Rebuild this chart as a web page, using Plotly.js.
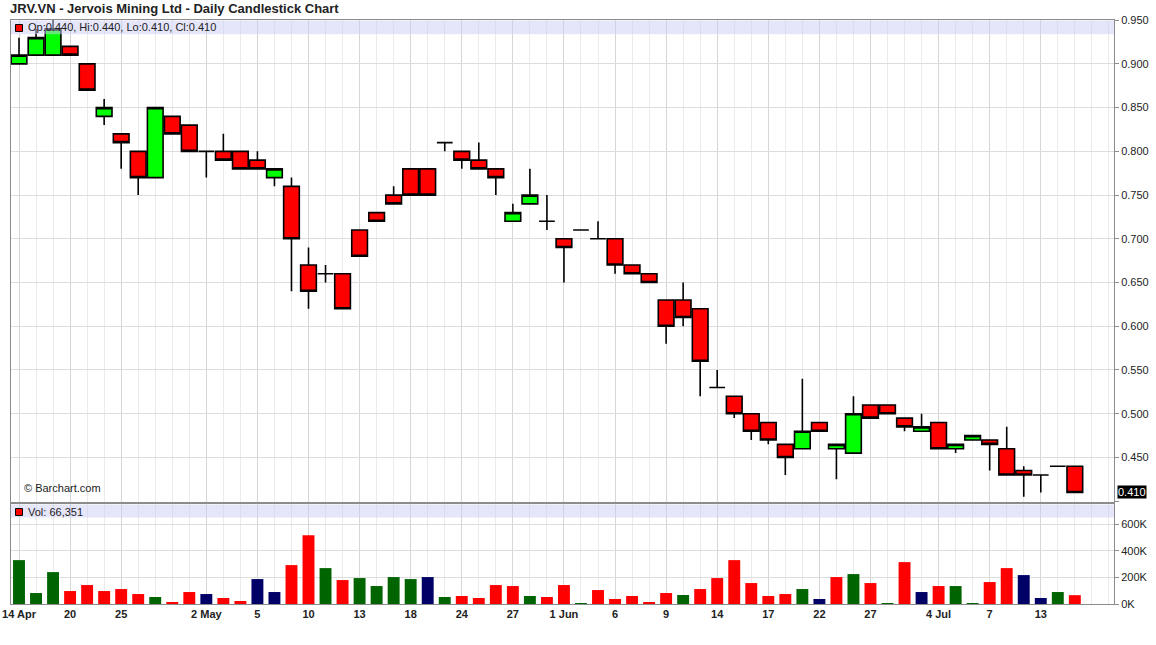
<!DOCTYPE html>
<html><head><meta charset="utf-8">
<script src="https://cdn.plot.ly/plotly-3.0.1.min.js"></script>
<style>html,body{margin:0;padding:0;background:#fff}#chart{width:1156px;height:645px}</style>
</head><body><div id="chart"></div>
<script>
// ---- data ----
const opens  = [0.90,0.91,0.91,0.92,0.90,0.84,0.82,0.80,0.77,0.84,0.83,0.80,0.80,0.80,0.79,0.77,0.76,0.67,0.66,0.66,0.71,0.73,0.75,0.78,0.78,0.81,0.80,0.79,0.78,0.72,0.74,0.72,0.70,0.71,0.70,0.70,0.67,0.66,0.63,0.63,0.62,0.53,0.52,0.50,0.49,0.465,0.46,0.49,0.46,0.455,0.51,0.51,0.495,0.48,0.49,0.46,0.47,0.47,0.46,0.435,0.43,0.44,0.44];
const highs  = [0.93,0.94,0.95,0.92,0.90,0.86,0.82,0.80,0.85,0.84,0.83,0.80,0.82,0.80,0.80,0.78,0.77,0.69,0.67,0.66,0.71,0.73,0.76,0.78,0.78,0.81,0.80,0.81,0.78,0.74,0.78,0.75,0.70,0.71,0.72,0.70,0.67,0.66,0.63,0.65,0.62,0.55,0.52,0.50,0.49,0.465,0.54,0.49,0.465,0.52,0.51,0.51,0.495,0.50,0.49,0.465,0.475,0.47,0.485,0.44,0.43,0.44,0.44];
const lows   = [0.90,0.91,0.91,0.91,0.87,0.83,0.78,0.75,0.77,0.82,0.80,0.77,0.79,0.78,0.78,0.76,0.64,0.62,0.65,0.62,0.68,0.72,0.74,0.75,0.75,0.80,0.78,0.78,0.75,0.72,0.74,0.71,0.65,0.71,0.70,0.66,0.66,0.65,0.58,0.60,0.52,0.53,0.495,0.47,0.465,0.43,0.46,0.48,0.425,0.455,0.495,0.50,0.48,0.48,0.46,0.455,0.47,0.435,0.43,0.405,0.41,0.44,0.41];
const closes = [0.91,0.93,0.94,0.91,0.87,0.85,0.81,0.77,0.85,0.82,0.80,0.80,0.79,0.78,0.78,0.78,0.70,0.64,0.66,0.62,0.68,0.72,0.74,0.75,0.75,0.81,0.79,0.78,0.77,0.73,0.75,0.72,0.69,0.71,0.70,0.67,0.66,0.65,0.60,0.61,0.56,0.53,0.50,0.48,0.47,0.45,0.48,0.48,0.465,0.50,0.495,0.50,0.485,0.485,0.46,0.465,0.475,0.465,0.43,0.43,0.43,0.44,0.41];
const volumes = [330000,82500,240000,97500,142500,97500,112500,75000,52500,15000,90000,75000,45000,22500,187500,90000,292500,517500,270000,180000,195000,135000,202500,187500,202500,52500,60000,45000,142500,135000,60000,52500,142500,7500,105000,37500,60000,15000,82500,67500,112500,195000,330000,157500,60000,75000,112500,37500,202500,225000,157500,7500,315000,90000,135000,135000,7500,165000,270000,217500,45000,90000,66351];
const tickIdx    = [0,3,6,11,14,17,20,23,26,29,32,35,38,41,44,47,50,54,57,60];
const tickLabels = ['14 Apr','20','25','2 May','5','10','13','18','24','27','1 Jun','6','9','14','17','22','27','4 Jul','7','13'];
const priceTickVals = [0.40,0.45,0.50,0.55,0.60,0.65,0.70,0.75,0.80,0.85,0.90,0.95];
const priceTickText = ['','0.450','0.500','0.550','0.600','0.650','0.700','0.750','0.800','0.850','0.900','0.950'];
const volTickVals = [0,200000,400000,600000];
const volTickText = ['0K','200K','400K','600K'];
const chartTitle = 'JRV.VN - Jervois Mining Ltd - Daily Candlestick Chart';

// ---- build ----
const xs = opens.map((_, i) => i);
const last = opens.length - 1;
const GREEN = '#00ff00', RED = '#ff0000';
const VUP = '#006400', VDN = '#ff0000', VFLAT = '#000066';
const volColors = closes.map((c, i) => {
  const prev = i === 0 ? opens[0] : closes[i - 1];
  return c > prev ? VUP : (c < prev ? VDN : VFLAT);
});

const W = 1156, H = 645, ML = 11, MR = 42, MT = 20, MB = 41;
const PW = W - ML - MR, PH = H - MT - MB;
const px = x => (x - ML) / PW;
const py = y => (H - MB - y) / PH;

const FONT = 'Liberation Sans, Arial, sans-serif';
const FRAME = '#8c8c8c';

const candle = {
  type: 'candlestick', x: xs, open: opens, high: highs, low: lows, close: closes,
  xaxis: 'x', yaxis: 'y',
  increasing: {fillcolor: GREEN, line: {color: '#000', width: 1.6}},
  decreasing: {fillcolor: RED, line: {color: '#000', width: 1.6}},
  whiskerwidth: 0, hoverinfo: 'skip'
};
const vol = {
  type: 'bar', x: xs, y: volumes, xaxis: 'x2', yaxis: 'y2',
  marker: {color: volColors, line: {width: 0}}, width: 0.7, hoverinfo: 'skip'
};

const xRange = [-0.47, 64.3];
const baseX = {
  range: xRange, tickvals: tickIdx, ticktext: tickLabels, showgrid: true, gridcolor: '#d6d6d6', gridwidth: 1,
  minor: {dtick: 1, tick0: 0, showgrid: true, gridcolor: '#ebebeb', gridwidth: 1},
  showline: true, linecolor: FRAME, linewidth: 1, mirror: true, zeroline: false, fixedrange: true,
  rangeslider: {visible: false}
};

const layout = {
  width: W, height: H,
  margin: {l: ML, r: MR, t: MT, b: MB, pad: 0},
  paper_bgcolor: '#fff', plot_bgcolor: '#fff',
  showlegend: false, hovermode: false,
  boxgap: 0.04, boxgroupgap: 0.04,
  font: {family: FONT, size: 11, color: '#222'},
  title: {text: chartTitle, xref: 'container', x: 10 / W, xanchor: 'left', yref: 'container', y: 1 - 8 / H, yanchor: 'middle',
          font: {family: FONT, size: 13, weight: 'bold', color: '#222'}},
  xaxis: Object.assign({}, baseX, {domain: [0, 1], anchor: 'y', showticklabels: false, ticks: ''}),
  xaxis2: Object.assign({}, baseX, {domain: [0, 1], anchor: 'y2', matches: 'x', showticklabels: true, ticks: '',
          tickfont: {family: FONT, size: 11, weight: 'bold', color: '#222'}}),
  yaxis: {domain: [py(501.7), 1], anchor: 'x', side: 'right', range: [0.3994, 0.9502], tickvals: priceTickVals, ticktext: priceTickText,
          ticks: 'outside', ticklen: 4, tickcolor: FRAME, showgrid: true, gridcolor: '#dddddd', showline: true, linecolor: FRAME, mirror: true,
          zeroline: false, fixedrange: true, tickfont: {family: FONT, size: 11, color: '#222'}},
  yaxis2: {domain: [0, py(504)], anchor: 'x2', side: 'right', range: [0, 752000], tickvals: volTickVals, ticktext: volTickText,
          ticks: 'outside', ticklen: 4, tickcolor: FRAME, showgrid: true, gridcolor: '#dddddd', showline: true, linecolor: FRAME, mirror: true,
          zeroline: false, fixedrange: true, tickfont: {family: FONT, size: 11, color: '#222'}},
  shapes: [
    {type: 'rect', xref: 'paper', yref: 'paper', x0: 0, x1: 1, y0: py(34.3), y1: py(20.5), fillcolor: 'rgba(205,205,245,0.5)', line: {width: 0}, layer: 'above'},
    {type: 'rect', xref: 'paper', yref: 'paper', x0: 0, x1: 1, y0: py(517.5), y1: py(504.5), fillcolor: 'rgba(205,205,245,0.5)', line: {width: 0}, layer: 'above'},
    {type: 'rect', xref: 'paper', yref: 'paper', x0: px(15.5), x1: px(22.5), y0: py(31.5), y1: py(24.5), fillcolor: RED, line: {color: '#000', width: 1}, layer: 'above'},
    {type: 'rect', xref: 'paper', yref: 'paper', x0: px(15.5), x1: px(22.5), y0: py(515.5), y1: py(508.5), fillcolor: volColors[last], line: {color: '#000', width: 1}, layer: 'above'}
  ],
  annotations: [
    {xref: 'paper', yref: 'paper', x: px(26), y: py(27.5), xanchor: 'left', yanchor: 'middle', showarrow: false,
     text: 'Op:' + opens[last].toFixed(3) + ', Hi:' + highs[last].toFixed(3) + ', Lo:' + lows[last].toFixed(3) + ', Cl:' + closes[last].toFixed(3),
     font: {family: FONT, size: 11, color: '#222'}},
    {xref: 'paper', yref: 'paper', x: px(26), y: py(511.8), xanchor: 'left', yanchor: 'middle', showarrow: false,
     text: 'Vol: ' + volumes[last].toLocaleString('en-US'), font: {family: FONT, size: 11, color: '#222'}},
    {xref: 'paper', yref: 'paper', x: px(21.5), y: py(488), xanchor: 'left', yanchor: 'middle', showarrow: false,
     text: '\u00a9 Barchart.com', font: {family: FONT, size: 11, color: '#222'}},
    {xref: 'paper', yref: 'y', x: 1, y: closes[last], xanchor: 'left', yanchor: 'middle', xshift: 3, showarrow: false,
     text: closes[last].toFixed(3), bgcolor: '#000', borderpad: 0, font: {family: FONT, size: 11, color: '#fff'}}
  ]
};

Plotly.newPlot('chart', [candle, vol], layout, {displayModeBar: false, staticPlot: true});
</script>
</body></html>
